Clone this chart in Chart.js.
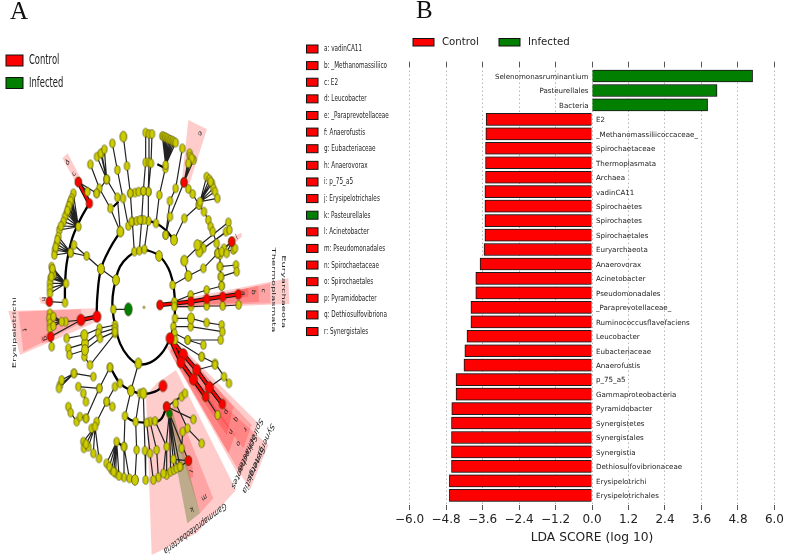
<!DOCTYPE html>
<html><head><meta charset="utf-8">
<style>html,body{margin:0;padding:0;background:#fff;width:787px;height:558px;overflow:hidden}
canvas{position:absolute;top:0;filter:blur(.4px)}</style>
<script src="https://cdn.jsdelivr.net/npm/chart.js@4"></script>
</head><body>
<canvas id="a" width="392" height="558" style="left:0"></canvas>
<canvas id="b" width="395" height="558" style="left:392px"></canvas>
<script>
// ---------- Panel B data ----------
const categories = ["Selenomonasruminantium","Pasteurellales","Bacteria","E2","_Methanomassiliicoccaceae_","Spirochaetaceae","Thermoplasmata","Archaea","vadinCA11","Spirochaetes","Spirochaetes","Spirochaetales","Euryarchaeota","Anaerovorax","Acinetobacter","Pseudomonadales","_Paraprevotellaceae_","Ruminococcusflavefaciens","Leucobacter","Eubacteriaceae","Anaerofustis","p_75_a5","Gammaproteobacteria","Pyramidobacter","Synergistetes","Synergistales","Synergistia","Dethiosulfovibrionaceae","Erysipelotrichi","Erysipelotrichales"];
const infectedScores = [5.28,4.11,3.80];
const controlScores = [-3.48,-3.49,-3.50,-3.50,-3.50,-3.52,-3.52,-3.52,-3.52,-3.55,-3.68,-3.82,-3.82,-3.98,-3.98,-4.11,-4.18,-4.21,-4.47,-4.47,-4.61,-4.62,-4.62,-4.62,-4.62,-4.69,-4.69];
const tickValues = [-6,-4.8,-3.6,-2.4,-1.2,0,1.2,2.4,3.6,4.8,6];
const seriesNames = ["Control","Infected"];

// ---------- Panel A data ----------
const cladeLegend = ["a: vadinCA11","b: _Methanomassiliico","c: E2","d: Leucobacter","e: _Paraprevotellaceae","f: Anaerofustis","g: Eubacteriaceae","h: Anaerovorax","i: p_75_a5","j: Erysipelotrichales","k: Pasteurellales","l: Acinetobacter","m: Pseudomonadales","n: Spirochaetaceae","o: Spirochaetales","p: Pyramidobacter","q: Dethiosulfovibriona","r: Synergistales"];
const cladeLegendGreen = ["k: Pasteurellales"];
const ringArcs = [
 [520,490,505,445,478,408,445,392,418,390,385,410,360,440,347,480,338,530,338,570,345,615,360,670,385,710,415,732,450,728,485,700,510,655,522,610,525,550,520,490],
 [290,590,292,530,303,447,330,385,361,335],
 [445,303,468,310,497,330,522,360],
 [335,750,360,790,393,812,430,822,465,815,490,798],
 [268,250,240,300,215,360,200,430,195,500,195,548],
 [375,888,400,903,440,908,480,900,500,860]
];
const shortThick = [[340,260,355,245],[472,133,496,145],[345,960,375,985],[385,318,420,300]];
const chains = [
 [385,568,340,568],[480,555,523,552],
 [370,50,381,138,391,220,397,305,403,395],[337,70,352,150,369,235,385,318],[271,133,298,205,331,265,361,335],
 [305,100,320,178,352,232,361,335],[437,38,437,127,430,213,425,300,418,392],[447,42,447,127,445,215],[456,42,453,130,445,215,445,303,433,388],
 [496,145,478,225,468,310],[547,85,527,205,510,243,497,345],[552,187,510,290,497,345],
 [565,207,578,222,597,255,612,275,625,300,632,320,638,335,650,370,660,405,660,440,663,470,665,497],
 [597,255,553,295,522,360],[685,307,600,375,552,422,565,468,518,495],[678,335,598,395],[688,330,610,385],[565,468,610,445,653,400],[653,400,695,365],[653,400,700,390],
 [660,440,708,435],[663,470,710,455],[523,545,572,525,620,510,665,498],[523,560,573,560,620,558,668,558,716,555],
 [525,595,573,595,620,608,665,615],[520,620,572,620,667,635],[523,640,563,660,662,660],[563,660,610,675],[525,660,605,710],[605,710,645,730,687,790],[590,750,645,735],[628,802,672,770],
 [617,830,653,885],[545,830,500,860],[555,820,500,860],[500,860,565,1022],[527,850,562,925,605,970],[500,860,580,898],[548,935,545,985],
 [430,820,435,992,437,1080],[420,820,407,905,410,990,405,1080],[415,732,393,810],[393,812,375,888,372,980,372,1072],
 [450,905,470,990,475,1072],[465,903,500,980,500,1065],[440,908,450,1000,460,1080],
 [345,800,320,845,290,905,275,925],[330,742,298,805,258,895],[298,805,235,800],[337,860,320,845],[250,820,258,845],[205,860,212,878,230,905],[240,890,258,895],
 [360,790,330,742],[280,770,222,760],[345,640,270,735,253,710],[345,615,298,625,252,645,200,655],[345,625,295,640,255,670,205,685],[345,635,300,655,255,690,208,705],
 [348,480,303,447,260,408,212,398],[303,447,222,375],[148,545,195,548],[290,590,243,600,197,605],[243,600,152,650,155,680],[235,186,262,215],[235,186,290,220],[320,178,290,220]
];
const fans = [
 [320,178,291,110,302,100,313,88],
 [497,135,487,48,492,50,497,52,502,55,507,58,512,60,517,62,522,65,527,68],
 [552,187,569,100,581,120,570,110,575,115,565,130],
 [600,245,620,170,628,178,636,190,640,205,645,215,652,235,632,185],
 [695,365,672,385,665,395,680,400,705,385],
 [235,320,220,220,215,235,210,250,205,265,200,280,195,290,190,305,178,330,183,318,212,243,207,258,202,272],
 [212,398,175,350,170,372,165,390,163,405,172,360,167,382],
 [198,490,155,440,158,455,160,465,152,475,150,490,150,505,150,520,157,447,154,470],
 [185,605,150,580,148,595,150,610,150,625,160,590,160,618],
 [508,880,512,1055,522,1050,540,1040,490,1060,530,1045],
 [565,1022,520,1018,540,1040],
 [350,965,320,1030,335,1050,347,1060,357,1068,328,1040,341,1055],
 [372,980,388,1075],
 [285,920,250,965,252,985,265,980,280,1000,297,1015,258,972],
 [222,760,180,795,177,805,185,780]
];
const ring2TopNodes = [405,218,416,215,430,213,391,220,395,305,410,303,432,300,420,300];
const bigYellowNodes = [477,408,348,480,303,447,361,335,522,360,415,730,393,812,430,820,370,50,405,1080,598,395,592,375,565,468,553,422,255,670,255,690,253,645,573,595];
const redThick = [[480,555,573,545,620,537,668,530,715,523],[290,590,243,600],[510,655,550,703,590,750,628,802,667,852],[510,655,543,727,580,778,617,830],[268,250,235,186]];
const redBigNodes = [510,655,550,703,590,750,628,802,291,590,243,600,489,798,543,727,580,778];
const redSmallNodes = [480,555,573,545,620,537,668,530,715,523,617,830,667,852,152,650,148,545,235,186,268,250,552,187,695,365,500,860,565,1022];
const greenCenter = [385,568];
const greenSmall = [508,880];
const rootNode = [432,562];
const wedgesPale = [
 [565,0,621,28,567,195,545,185],[187,115,203,100,250,190,235,200],[117,532,148,530,148,555,122,550],
 [25,573,290,565,290,605,60,705],[695,350,725,338,725,350,700,375],
 [530,540,865,475,868,552,525,565],[522,552,810,490,812,550,525,560],[522,552,775,497,777,545,525,558],
 [500,680,530,665,775,910,720,1075],[505,690,540,740,805,975,750,1110],
 [438,825,470,790,528,750,708,1110,590,1240,455,1305]
];
const wedgesMid = [
 [55,575,243,568,243,610,70,695],[122,650,145,640,153,665,125,670],[715,510,745,505,745,530,715,535],[520,665,755,915,730,985,510,690],[520,680,705,945,685,1000,510,695],[560,700,700,860,680,945,540,740],
 [500,865,530,860,640,1135,600,1180],[555,1020,575,1010,580,1070,570,1075]
];
const wedgeTan = [500,885,520,880,600,1180,562,1210];
const wedgeLetters = [["e",600,40,110],["d",203,128,-65],["c",222,162,-65],["h",130,538,90],["g",135,655,75],["f",72,630,75],["c",790,512,95],["b",760,517,95],["a",730,520,95],["i",710,352,-30],["p",678,875,125],["q",708,898,125],["r",735,928,125],["n",692,935,125],["o",715,970,125],["k",575,1167,155],["m",612,1132,150],["l",572,1052,110]];
const cladeNames = [["Euryarchaeota",852,515,90],["Thermoplasmata",822,510,90],["Erysipelotrichi",42,638,-90],["Gammaproteobacteria",585,1225,155.6],["Spirochaetes",750,975,125.9],["Spirochaetes",732,1025,125.9],["Synergistetes",782,995,125.9],["Synergistia",760,1050,125.9]];

// ---------- helpers ----------
const toPts = a => { const o=[]; for(let i=0;i<a.length;i+=2) o.push({x:a[i],y:a[i+1]}); return o; };
const gap = {x:null,y:null};
const joined = list => list.flatMap(p => [...toPts(p), gap]);
function sprite(fill,rx,ry){
  const c=document.createElement('canvas'); c.width=Math.ceil(rx*2+3); c.height=Math.ceil(ry*2+3);
  const g=c.getContext('2d'); g.beginPath(); g.ellipse(c.width/2,c.height/2,rx,ry,0,0,Math.PI*2);
  g.fillStyle=fill; g.fill(); g.lineWidth=.6; g.strokeStyle='#3a3a00'; g.stroke(); return c;
}
function squished(ctx,str,x,y,font,sx,deg,align){
  ctx.save(); ctx.translate(x,y); ctx.scale(sx,1); ctx.rotate(deg*Math.PI/180);
  ctx.font=font; ctx.textAlign=align||'center'; ctx.textBaseline='middle'; ctx.fillStyle='#222';
  ctx.fillText(str,0,0); ctx.restore();
}
const RED='#fe0000', GREEN='#007f00', YELLOW='#cccc00';

// ---------- Panel A ----------
const thinEdges = [];
chains.forEach(c=>thinEdges.push(...toPts(c),gap));
fans.forEach(f=>{ const p=toPts(f); p.slice(1).forEach(ch=>thinEdges.push(p[0],ch,gap)); });
const yellowPts = [...chains.flatMap(toPts),...fans.flatMap(toPts),...toPts(ring2TopNodes)];
const scatterStyle = {showLine:false,pointRadius:5,pointHoverRadius:5};
const aDatasets = [
  {label:'red small',data:toPts(redSmallNodes),...scatterStyle,pointStyle:sprite(RED,3.2,4.8),order:0},
  {label:'red big',data:toPts(redBigNodes),...scatterStyle,pointStyle:sprite(RED,4,5.8),order:0},
  {label:'green',data:toPts(greenCenter),...scatterStyle,pointStyle:sprite(GREEN,3.8,6.5),order:0},
  {label:'green small',data:toPts(greenSmall),...scatterStyle,pointStyle:sprite(GREEN,2.6,3.8),order:0},
  {label:'root',data:toPts(rootNode),...scatterStyle,pointStyle:sprite(YELLOW,.8,1.2),order:0},
  {label:'yellow big',data:toPts(bigYellowNodes),...scatterStyle,pointStyle:sprite(YELLOW,3.4,5.4),order:1},
  {label:'yellow',data:yellowPts,...scatterStyle,pointStyle:sprite(YELLOW,2.7,4.3),order:2},
  {label:'red arms',data:joined(redThick),showLine:true,pointRadius:0,borderColor:RED,borderWidth:2.4,order:3},
  {label:'red arm outline',data:joined(redThick),showLine:true,pointRadius:0,borderColor:'#111',borderWidth:4.4,order:4},
  {label:'arcs',data:joined(ringArcs),showLine:true,pointRadius:0,borderColor:'#000',borderWidth:2.3,tension:.4,order:5},
  {label:'short',data:joined(shortThick),showLine:true,pointRadius:0,borderColor:'#000',borderWidth:2.2,order:5},
  {label:'edges',data:thinEdges,showLine:true,pointRadius:0,borderColor:'#222',borderWidth:1.2,order:6},
  ...wedgesPale.map(w=>({label:'clade',data:[...toPts(w),toPts(w)[0]],showLine:true,pointRadius:0,borderWidth:0,fill:'shape',backgroundColor:'rgba(255,0,0,.2)',order:9})),
  ...wedgesMid.map(w=>({label:'clade',data:[...toPts(w),toPts(w)[0]],showLine:true,pointRadius:0,borderWidth:0,fill:'shape',backgroundColor:'rgba(255,0,0,.2)',order:8})),
  {label:'clade',data:[...toPts(wedgeTan),toPts(wedgeTan)[0]],showLine:true,pointRadius:0,borderWidth:0,fill:'shape',backgroundColor:'rgba(110,130,60,.45)',order:7}
];
const panelAText = {id:'panelAText',afterDraw(chart){
  const ctx=chart.ctx, X=chart.scales.x, Y=chart.scales.y;
  ctx.save();
  ctx.font='25px "Liberation Serif"'; ctx.fillStyle='#111'; ctx.textAlign='left'; ctx.textBaseline='alphabetic';
  ctx.fillText('A',10,19);
  seriesNames.forEach((n,i)=>{
    const y=60.5+i*22.5;
    ctx.fillStyle=i?GREEN:RED; ctx.strokeStyle='#111'; ctx.lineWidth=1;
    ctx.fillRect(6,y-5.5,17,11); ctx.strokeRect(6,y-5.5,17,11);
    squished(ctx,n,29,y,'14px "DejaVu Sans"',.6,0,'left');
  });
  cladeLegend.forEach((n,i)=>{
    const y=49+i*16.62;
    ctx.fillStyle=cladeLegendGreen.includes(n)?GREEN:RED; ctx.strokeStyle='#111'; ctx.lineWidth=1;
    ctx.fillRect(306.5,y-4,11.5,8); ctx.strokeRect(306.5,y-4,11.5,8);
    ctx.save(); ctx.beginPath(); ctx.rect(300,y-9,90,18); ctx.clip();
    squished(ctx,n,324,y,'9.5px "DejaVu Sans"',.6,0,'left');
    ctx.restore();
  });
  wedgeLetters.forEach(([s,x,y,r])=>squished(ctx,s,X.getPixelForValue(x),Y.getPixelForValue(y),'8px "DejaVu Sans"',.7,r));
  cladeNames.forEach(([s,x,y,r])=>squished(ctx,s,X.getPixelForValue(x),Y.getPixelForValue(y),'10px "DejaVu Sans"',.6,r));
  ctx.restore();
}};
new Chart(document.getElementById('a'),{type:'scatter',data:{datasets:aDatasets},plugins:[panelAText],options:{
  responsive:false,animation:false,events:[],layout:{autoPadding:false,padding:0},
  plugins:{legend:{display:false},tooltip:{enabled:false}},
  scales:{x:{type:'linear',min:0,max:1176,display:false},y:{type:'linear',min:-360,max:1314,reverse:true,display:false}}
}});

// ---------- Panel B ----------
const xGrid={color:'#888',lineWidth:.9,tickLength:5,tickColor:'#555',tickBorderDash:[],tickWidth:1};
const xBorder={display:false,dash:[1,3]};
const barHalo={id:'barHalo',
  beforeDatasetsDraw(c){c.ctx.save();c.ctx.shadowColor='rgba(80,80,80,.55)';c.ctx.shadowBlur=2;},
  afterDatasetsDraw(c){c.ctx.restore();}};
const panelBText = {id:'panelBText',afterDraw(chart){
  const ctx=chart.ctx, X=chart.scales.x, Y=chart.scales.y, x0=X.getPixelForValue(0);
  ctx.save();
  ctx.font='25px "Liberation Serif"'; ctx.fillStyle='#111'; ctx.textAlign='left'; ctx.textBaseline='alphabetic';
  ctx.fillText('B',24,18);
  seriesNames.forEach((n,i)=>{
    const bx=21+i*86;
    ctx.fillStyle=i?GREEN:RED; ctx.strokeStyle='#111'; ctx.lineWidth=1;
    ctx.fillRect(bx,38.5,21,7.5); ctx.strokeRect(bx,38.5,21,7.5);
    ctx.font='10.2px "DejaVu Sans"'; ctx.fillStyle='#222'; ctx.textBaseline='middle'; ctx.textAlign='left';
    ctx.fillText(n,bx+29,42.5);
  });
  ctx.font='7.1px "DejaVu Sans"'; ctx.fillStyle='#222'; ctx.textBaseline='middle';
  categories.forEach((c,i)=>{
    const positive=i<infectedScores.length;
    ctx.textAlign=positive?'right':'left';
    ctx.fillText(c,x0+(positive?-3.5:4),Y.getPixelForValue(i)+1);
  });
  ctx.restore();
}};
const setTicks = s => { s.ticks = tickValues.map(v=>({value:v})); };
new Chart(document.getElementById('b'),{type:'bar',
 data:{datasets:[
  {label:seriesNames[0],data:controlScores.map((v,i)=>({x:v,y:i+infectedScores.length})),backgroundColor:RED,borderColor:'#111',borderWidth:1,barThickness:12,grouped:false},
  {label:seriesNames[1],data:infectedScores.map((v,i)=>({x:v,y:i})),backgroundColor:GREEN,borderColor:'#111',borderWidth:1,barThickness:12,grouped:false}
 ]},
 plugins:[barHalo,panelBText],
 options:{indexAxis:'y',responsive:false,animation:false,events:[],
  layout:{padding:{left:17.3,right:11,top:61.7,bottom:0}},
  plugins:{legend:{display:false},tooltip:{enabled:false}},
  scales:{
   y:{type:'linear',min:-0.643,max:29.67,reverse:true,display:false,offset:false},
   x:{type:'linear',position:'bottom',min:-6,max:6,afterBuildTicks:setTicks,afterFit:s=>{s.height=53;},
      border:xBorder,grid:xGrid,
      ticks:{autoSkip:false,maxRotation:0,minRotation:0,padding:3,color:'#222',font:{family:'DejaVu Sans',size:12},callback:v=>v.toFixed(1).replace('-','\u2212')},
      title:{display:true,text:'LDA SCORE (log 10)',color:'#222',font:{family:'DejaVu Sans',size:12.3},padding:{top:0,bottom:13}}},
   x2:{type:'linear',position:'top',min:-6,max:6,afterBuildTicks:setTicks,afterFit:s=>{s.height=5;},
      border:xBorder,grid:{...xGrid,drawOnChartArea:false},ticks:{display:false}}
  }
 }
});
</script>
</body></html>
